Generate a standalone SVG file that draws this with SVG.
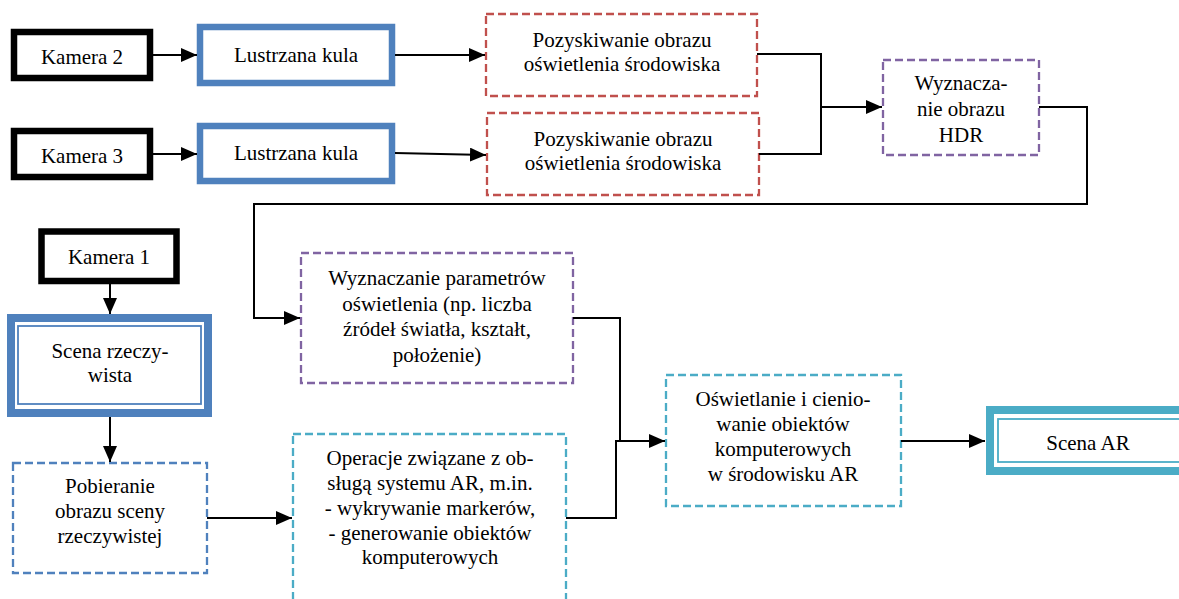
<svg xmlns="http://www.w3.org/2000/svg" width="1179" height="599" viewBox="0 0 1179 599">
<style>
  text { font-family: "Liberation Serif", "Times New Roman", serif; font-size: 21px; fill: #000; text-anchor: middle; }
  .cam { fill: #fff; stroke: #000; stroke-width: 6.5; }
  .kula { fill: #fff; stroke: #4f81bd; stroke-width: 6.5; }
  .dred { fill: #fff; stroke: #c0504d; stroke-width: 2.3; stroke-dasharray: 8 4; }
  .dpur { fill: #fff; stroke: #8064a2; stroke-width: 2.3; stroke-dasharray: 8 4; }
  .dcyan { fill: #fff; stroke: #4bacc6; stroke-width: 2.3; stroke-dasharray: 8 4; }
  .dblue { fill: #fff; stroke: #4f81bd; stroke-width: 2.3; stroke-dasharray: 8 4; }
  .conn { fill: none; stroke: #000; stroke-width: 2; }
</style>
<defs>
  <marker id="arr" viewBox="0 0 16 14" refX="16" refY="7" markerWidth="16" markerHeight="14" markerUnits="userSpaceOnUse" orient="auto">
    <path d="M0,0 L16,7 L0,14 z" fill="#000"/>
  </marker>
</defs>

<g id="kamera2">
  <rect class="cam" x="14" y="32" width="136" height="46"/>
  <text x="82" y="64">Kamera 2</text>
</g>
<g id="kula1">
  <rect class="kula" x="200" y="27" width="192" height="56"/>
  <text x="296" y="62">Lustrzana kula</text>
</g>
<g id="kamera3">
  <rect class="cam" x="14" y="131" width="136" height="46"/>
  <text x="82" y="163">Kamera 3</text>
</g>
<g id="kula2">
  <rect class="kula" x="200" y="126" width="192" height="55"/>
  <text x="296" y="160">Lustrzana kula</text>
</g>
<g id="pozysk1">
  <rect class="dred" x="486" y="14" width="271" height="82"/>
  <text x="622" y="47">Pozyskiwanie obrazu</text>
  <text x="622" y="71">oświetlenia środowiska</text>
</g>
<g id="pozysk2">
  <rect class="dred" x="487" y="113" width="272" height="82"/>
  <text x="623" y="146">Pozyskiwanie obrazu</text>
  <text x="623" y="170">oświetlenia środowiska</text>
</g>
<g id="hdr">
  <rect class="dpur" x="883" y="60" width="156" height="95"/>
  <text x="961" y="90">Wyznacza-</text>
  <text x="961" y="116">nie obrazu</text>
  <text x="961" y="142">HDR</text>
</g>
<g id="kamera1">
  <rect class="cam" x="41.5" y="231.5" width="135" height="49.5"/>
  <text x="109" y="264">Kamera 1</text>
</g>
<g id="scena">
  <rect fill="#fff" stroke="#4f81bd" stroke-width="8" x="11" y="318" width="197" height="95"/>
  <rect fill="none" stroke="#4f81bd" stroke-width="1.8" x="18" y="326" width="183" height="78"/>
  <text x="110" y="358">Scena rzeczy-</text>
  <text x="110" y="382">wista</text>
</g>
<g id="pobieranie">
  <rect class="dblue" x="13" y="463" width="194" height="110"/>
  <text x="110" y="493">Pobieranie</text>
  <text x="110" y="518">obrazu sceny</text>
  <text x="110" y="543">rzeczywistej</text>
</g>
<g id="parametry">
  <rect class="dpur" x="301" y="253" width="272" height="130"/>
  <text x="437" y="285">Wyznaczanie parametrów</text>
  <text x="437" y="311">oświetlenia (np. liczba</text>
  <text x="437" y="336">źródeł światła, kształt,</text>
  <text x="437" y="362">położenie)</text>
</g>
<g id="operacje">
  <rect class="dcyan" x="293" y="434" width="273" height="200"/>
  <text x="430" y="465">Operacje związane z ob-</text>
  <text x="430" y="490">sługą systemu AR, m.in.</text>
  <text x="430" y="515">- wykrywanie markerów,</text>
  <text x="430" y="540">- generowanie obiektów</text>
  <text x="430" y="564">komputerowych</text>
</g>
<g id="oswietlanie">
  <rect class="dcyan" x="666" y="375" width="235" height="131"/>
  <text x="783" y="406">Oświetlanie i cienio-</text>
  <text x="783" y="431">wanie obiektów</text>
  <text x="783" y="456">komputerowych</text>
  <text x="783" y="481">w środowisku AR</text>
</g>
<g id="scenaAR">
  <rect fill="#fff" stroke="#4bacc6" stroke-width="8" x="990" y="410" width="200" height="61"/>
  <rect fill="none" stroke="#4bacc6" stroke-width="1.8" x="998" y="419" width="200" height="43"/>
  <text x="1088" y="450">Scena AR</text>
</g>

<g id="connectors">
  <path class="conn" d="M153,55 L197,55" marker-end="url(#arr)"/>
  <path class="conn" d="M153,154 L197,154" marker-end="url(#arr)"/>
  <path class="conn" d="M395,55 L485,55" marker-end="url(#arr)"/>
  <path class="conn" d="M395,153 L486,155" marker-end="url(#arr)"/>
  <path class="conn" d="M757,54 L821,54 L821,154 L759,154"/>
  <path class="conn" d="M821,107 L882,107" marker-end="url(#arr)"/>
  <path class="conn" d="M1039,107 L1087,107 L1087,204 L254,204 L254,318 L300,318" marker-end="url(#arr)"/>
  <path class="conn" d="M110,284 L110,314" marker-end="url(#arr)"/>
  <path class="conn" d="M110,417 L110,462" marker-end="url(#arr)"/>
  <path class="conn" d="M207,518 L292,518" marker-end="url(#arr)"/>
  <path class="conn" d="M573,318 L620,318 L620,441"/>
  <path class="conn" d="M566,518 L616,518 L616,441 L665,441" marker-end="url(#arr)"/>
  <path class="conn" d="M901,441 L985,441" marker-end="url(#arr)"/>
</g>
</svg>
